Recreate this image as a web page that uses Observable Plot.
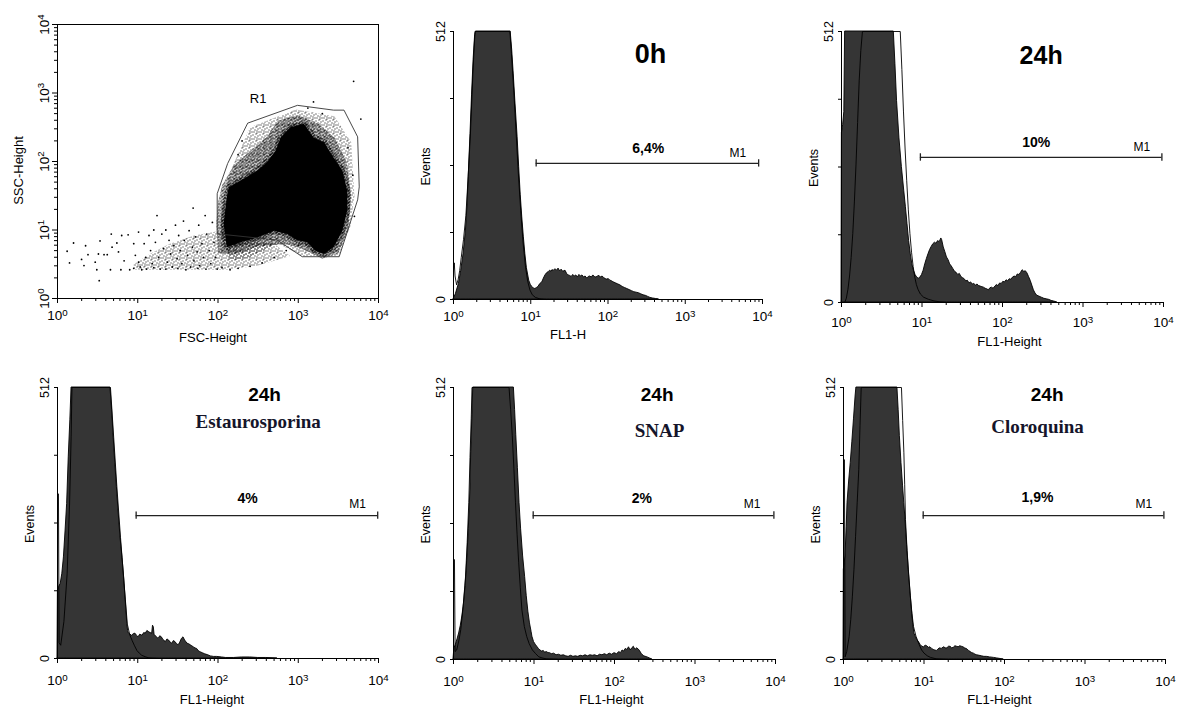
<!DOCTYPE html>
<html><head><meta charset="utf-8">
<script src="https://cdn.jsdelivr.net/npm/d3@7"></script>
<script src="https://cdn.jsdelivr.net/npm/@observablehq/plot@0.6"></script>
<style>
body{margin:0;background:#fff;}
#fig{position:relative;width:1188px;height:708px;overflow:hidden;background:#fff;font-family:"Liberation Sans",Arial,sans-serif;}
#fig > svg{position:absolute;overflow:visible;}
</style></head><body>
<svg width="0" height="0" style="position:absolute;left:0;top:0"><defs>
<pattern id="spkA" width="7" height="7" patternUnits="userSpaceOnUse" shape-rendering="crispEdges">
<rect x="0" y="1" width="1" height="1" fill="#000"/><rect x="3" y="0" width="1" height="1" fill="#000"/>
<rect x="5" y="2" width="1" height="1" fill="#000"/><rect x="2" y="3" width="1" height="1" fill="#000"/>
<rect x="6" y="5" width="1" height="1" fill="#000"/><rect x="1" y="5" width="1" height="1" fill="#000"/>
<rect x="4" y="6" width="1" height="1" fill="#000"/><rect x="4" y="4" width="1" height="1" fill="#000"/>
</pattern>
<pattern id="spkB" width="6" height="6" patternUnits="userSpaceOnUse" shape-rendering="crispEdges">
<rect x="0" y="0" width="2" height="1" fill="#000"/><rect x="3" y="0" width="1" height="1" fill="#000"/>
<rect x="5" y="1" width="1" height="1" fill="#000"/><rect x="1" y="2" width="2" height="1" fill="#000"/>
<rect x="4" y="2" width="1" height="2" fill="#000"/><rect x="0" y="4" width="1" height="1" fill="#000"/>
<rect x="2" y="4" width="1" height="2" fill="#000"/><rect x="5" y="4" width="1" height="1" fill="#000"/>
<rect x="4" y="5" width="1" height="1" fill="#000"/><rect x="0" y="3" width="1" height="1" fill="#000"/>
</pattern>
</defs></svg>
<div id="fig"></div>
<script>
// ---------- axis ticks ----------
const majorTicks = [1, 10, 100, 1000, 10000];
const minorTicks = [2,3,4,5,6,7,8,9,20,30,40,50,60,70,80,90,200,300,400,500,600,700,800,900,2000,3000,4000,5000,6000,7000,8000,9000];
const countTicks = [0, 128, 256, 384, 512];
const countTickLabels = [0, 512];

// ---------- scatter (log10 FSC, log10 SSC) ----------
const scatterCore = [[2.135,1.625],[2.32,1.75],[2.49,1.87],[2.61,1.99],[2.72,2.16],[2.78,2.35],[2.90,2.50],[3.07,2.55],[3.19,2.35],[3.32,2.28],[3.44,2.06],[3.55,1.87],[3.61,1.58],[3.61,1.28],[3.55,0.99],[3.44,0.75],[3.32,0.65],[3.21,0.70],[3.11,0.82],[2.99,0.85],[2.86,0.94],[2.70,0.99],[2.49,0.89],[2.28,0.82],[2.11,0.75],[2.07,1.09],[2.11,1.48]];
const scatterRing = [[2.05,1.65],[2.2,1.95],[2.4,2.15],[2.6,2.35],[2.75,2.6],[3.0,2.68],[3.25,2.55],[3.45,2.35],[3.6,2.0],[3.66,1.5],[3.62,1.0],[3.5,0.66],[3.3,0.58],[3.1,0.7],[2.85,0.8],[2.5,0.76],[2.2,0.64],[2.0,0.66],[1.98,1.1],[2.0,1.4]];
const scatterHalo = [[2.02,1.0],[2.06,1.45],[2.17,1.9],[2.4,2.5],[2.97,2.76],[3.45,2.66],[3.66,2.28],[3.7,1.5],[3.65,1.05],[3.5,0.62],[3.05,0.62],[2.75,0.8],[2.4,0.6],[2.15,0.55]];
const scatterTail = [[0.95,0.42],[1.6,0.42],[2.1,0.42],[2.5,0.48],[2.9,0.62],[2.7,0.8],[2.3,0.88],[2.0,0.98],[1.7,0.92],[1.4,0.8],[1.15,0.65],[0.95,0.5]];
const scatterDots = [[0.12,0.69],[0.20,0.81],[0.15,0.52],[0.30,0.57],[0.35,0.77],[0.33,0.48],[0.38,0.64],[0.47,0.53],[0.49,0.42],[0.52,0.26],[0.53,0.84],[0.51,0.65],[0.58,0.64],[0.62,0.64],[0.66,0.42],[0.67,0.94],[0.68,0.75],[0.74,0.81],[0.76,0.68],[0.79,0.42],[0.80,0.92],[0.83,0.55],[0.88,0.93],[0.90,0.42],[0.95,0.80],[0.97,0.63],[1.01,0.97],[1.01,0.53],[1.03,0.46],[1.08,0.80],[1.10,0.60],[1.11,0.43],[1.14,0.92],[1.16,0.70],[1.18,0.51],[1.20,1.00],[1.22,0.82],[1.24,1.21],[1.26,0.60],[1.28,0.43],[1.30,0.94],[1.32,0.73],[1.35,1.00],[1.37,0.53],[1.39,0.85],[1.41,0.65],[1.43,0.46],[1.45,0.77],[1.47,1.07],[1.49,0.58],[1.51,0.92],[1.53,0.70],[1.55,0.51],[1.57,1.13],[1.58,0.85],[1.62,0.63],[1.64,0.99],[1.66,0.46],[1.68,0.75],[1.69,1.32],[1.70,0.55],[1.72,0.90],[1.74,0.68],[1.76,1.07],[1.77,0.48],[1.80,0.80],[1.82,0.60],[1.84,1.21],[1.86,0.94],[1.89,0.70],[1.91,0.51],[1.93,1.11],[1.95,0.82],[1.97,0.60],[1.99,0.43],[0.95,0.44],[1.05,0.42],[1.2,0.45],[1.35,0.43],[1.5,0.44],[1.6,0.42],[1.75,0.44],[1.85,0.43],[2.05,0.45],[2.15,0.42],[2.25,0.44],[2.4,0.47],[2.55,0.52],[2.7,0.6],[2.85,0.7],[3.0,0.78],[3.69,3.17],[3.78,2.62],[3.19,2.87],[3.12,2.78],[3.3,2.7],[3.62,2.2],[2.3,2.3],[2.25,2.1],[3.68,1.8],[3.7,1.2]];
const gateR1 = [[1.99,0.95],[1.99,1.53],[2.12,1.97],[2.37,2.56],[2.99,2.82],[3.44,2.75],[3.57,2.75],[3.74,2.36],[3.76,1.63],[3.74,1.44],[3.51,0.61],[3.05,0.61],[2.74,0.85]];

// ---------- histograms (log10 FL1, events) ----------
const hist0hSample = [[0,0],[0.03,10],[0.07,30],[0.1,55],[0.13,87],[0.16,130],[0.18,176],[0.2,245],[0.22,316],[0.24,390],[0.26,457],[0.28,505],[0.29,512],[0.74,512],[0.76,476],[0.78,430],[0.8,380],[0.83,310],[0.85,253],[0.87,200],[0.89,157],[0.91,120],[0.93,87],[0.95,60],[0.98,36],[1.0,28],[1.02,24],[1.04,21],[1.06,20],[1.08,22],[1.1,24],[1.12,29],[1.15,33],[1.17,40],[1.19,46],[1.21,50],[1.23,52],[1.25,55],[1.27,53],[1.28,56],[1.3,55],[1.32,58],[1.34,55],[1.36,59],[1.38,54],[1.4,57],[1.42,53],[1.45,55],[1.47,49],[1.49,46],[1.51,45],[1.53,43],[1.55,47],[1.57,44],[1.59,46],[1.61,42],[1.63,47],[1.65,44],[1.67,46],[1.69,42],[1.71,44],[1.73,40],[1.75,43],[1.77,44],[1.79,42],[1.81,46],[1.83,43],[1.85,42],[1.87,44],[1.89,45],[1.91,42],[1.93,44],[1.95,41],[1.97,39],[1.99,38],[2.01,39],[2.03,36],[2.05,35],[2.07,33],[2.1,31],[2.13,29],[2.16,27],[2.19,24],[2.22,22],[2.25,20],[2.28,18],[2.31,16],[2.34,14],[2.37,13],[2.4,12],[2.43,10],[2.46,8],[2.49,7],[2.52,5],[2.55,3],[2.58,2],[2.62,1],[2.66,0]];
const hist0hControl = [[0,55],[0.01,70],[0.02,45],[0.04,28],[0.06,38],[0.08,55],[0.1,80],[0.13,115],[0.16,160],[0.19,235],[0.22,320],[0.25,430],[0.27,490],[0.28,512],[0.73,512],[0.75,470],[0.78,400],[0.81,320],[0.84,240],[0.87,170],[0.9,110],[0.93,65],[0.96,35],[0.99,18],[1.02,9],[1.06,4],[1.12,1],[1.2,0]];

const hist24hSample = [[0,0],[0.005,320],[0.02,335],[0.035,360],[0.045,512],[0.65,512],[0.67,450],[0.69,381],[0.72,310],[0.75,256],[0.78,210],[0.8,180],[0.82,148],[0.84,116],[0.86,92],[0.88,72],[0.9,60],[0.92,52],[0.94,47],[0.96,45],[0.98,47],[1.0,52],[1.02,60],[1.04,72],[1.06,82],[1.08,91],[1.1,99],[1.12,105],[1.14,110],[1.16,113],[1.18,111],[1.2,116],[1.22,114],[1.24,121],[1.25,118],[1.27,104],[1.29,95],[1.31,85],[1.33,80],[1.35,72],[1.37,68],[1.39,63],[1.41,58],[1.43,56],[1.45,52],[1.47,54],[1.49,48],[1.51,46],[1.53,44],[1.55,40],[1.57,41],[1.59,36],[1.61,38],[1.63,34],[1.65,35],[1.67,32],[1.69,34],[1.71,31],[1.73,30],[1.75,29],[1.77,28],[1.79,26],[1.81,25],[1.83,23],[1.85,27],[1.87,28],[1.89,26],[1.91,30],[1.93,33],[1.95,31],[1.97,36],[1.99,35],[2.01,39],[2.03,38],[2.05,42],[2.07,40],[2.09,44],[2.11,43],[2.13,47],[2.15,49],[2.17,48],[2.19,53],[2.21,52],[2.23,56],[2.25,61],[2.27,58],[2.29,59],[2.31,55],[2.33,48],[2.35,41],[2.37,32],[2.39,23],[2.41,17],[2.43,13],[2.46,11],[2.49,9],[2.52,7],[2.55,6],[2.58,5],[2.61,3],[2.64,2],[2.68,0]];
const hist24hControl = [[0.04,0],[0.06,8],[0.08,25],[0.1,50],[0.12,85],[0.14,130],[0.16,190],[0.18,260],[0.2,340],[0.22,420],[0.24,476],[0.26,512],[0.73,512],[0.75,440],[0.77,360],[0.79,290],[0.81,230],[0.83,175],[0.85,130],[0.87,95],[0.89,68],[0.91,48],[0.93,34],[0.95,25],[0.98,16],[1.02,10],[1.08,6],[1.15,3],[1.23,1],[1.3,0]];

const histEstSample = [[0,0],[0.005,128],[0.02,135],[0.04,141],[0.06,160],[0.08,191],[0.1,240],[0.12,292],[0.14,380],[0.16,450],[0.175,512],[0.66,512],[0.68,470],[0.70,418],[0.72,370],[0.74,324],[0.76,280],[0.785,229],[0.81,190],[0.83,154],[0.85,110],[0.87,65],[0.88,52],[0.89,47],[0.91,45],[0.93,43],[0.95,46],[0.97,47],[0.99,43],[1.01,40],[1.03,45],[1.06,43],[1.08,48],[1.10,47],[1.12,52],[1.14,50],[1.16,48],[1.18,47],[1.19,62],[1.20,59],[1.21,44],[1.22,43],[1.24,40],[1.26,37],[1.28,42],[1.30,40],[1.32,35],[1.35,31],[1.37,36],[1.39,34],[1.41,30],[1.43,28],[1.45,33],[1.47,31],[1.49,27],[1.51,25],[1.53,30],[1.55,37],[1.57,40],[1.59,34],[1.62,28],[1.64,27],[1.66,25],[1.68,23],[1.70,21],[1.72,19],[1.74,18],[1.76,14],[1.78,12],[1.81,10],[1.84,8],[1.88,6],[1.91,4],[1.95,3],[1.99,3],[2.05,2],[2.1,1],[2.2,1],[2.3,2],[2.4,2],[2.5,1],[2.6,1],[2.74,0]];
const histEstControl = [[0,0],[0.003,311],[0.012,311],[0.02,30],[0.04,25],[0.08,70],[0.12,160],[0.15,290],[0.17,420],[0.18,512],[0.66,512],[0.70,418],[0.74,324],[0.785,229],[0.83,141],[0.87,65],[0.9,45],[0.93,34],[0.96,24],[0.99,15],[1.02,10],[1.05,6],[1.1,3],[1.14,1],[1.25,0]];

const histSnapSample = [[0,0],[0.01,20],[0.03,28],[0.05,38],[0.07,49],[0.09,63],[0.11,81],[0.13,105],[0.15,138],[0.17,185],[0.19,245],[0.21,320],[0.22,390],[0.235,460],[0.245,512],[0.75,512],[0.765,470],[0.78,422],[0.80,360],[0.82,295],[0.84,245],[0.865,194],[0.89,155],[0.91,119],[0.93,90],[0.95,68],[0.97,52],[0.98,43],[1.0,33],[1.02,28],[1.04,24],[1.06,20],[1.08,17],[1.1,15],[1.12,16],[1.14,13],[1.16,14],[1.18,12],[1.2,12],[1.22,10],[1.25,11],[1.28,8],[1.31,9],[1.34,7],[1.37,8],[1.40,6],[1.43,5],[1.46,7],[1.49,5],[1.52,6],[1.55,5],[1.58,7],[1.61,6],[1.64,8],[1.67,6],[1.70,8],[1.73,7],[1.76,8],[1.79,6],[1.82,9],[1.85,8],[1.88,10],[1.91,8],[1.94,11],[1.97,9],[2.0,12],[2.03,10],[2.06,14],[2.08,12],[2.1,17],[2.12,15],[2.14,20],[2.16,18],[2.18,23],[2.2,17],[2.22,21],[2.24,24],[2.26,18],[2.28,21],[2.3,19],[2.32,15],[2.34,10],[2.37,6],[2.41,4],[2.44,2],[2.47,0]];
const histSnapControl = [[0,0],[0.004,188],[0.012,188],[0.02,15],[0.04,18],[0.07,38],[0.09,56],[0.12,100],[0.15,157],[0.17,220],[0.19,295],[0.205,380],[0.22,453],[0.23,512],[0.69,512],[0.71,470],[0.73,422],[0.75,360],[0.77,295],[0.79,235],[0.81,182],[0.83,135],[0.85,93],[0.88,62],[0.91,43],[0.94,30],[0.98,18],[1.02,11],[1.06,5],[1.1,3],[1.16,1],[1.3,0]];

const histCloSample = [[0,0],[0.004,169],[0.025,194],[0.04,250],[0.05,295],[0.07,335],[0.09,370],[0.11,410],[0.13,452],[0.15,495],[0.16,512],[0.67,512],[0.685,470],[0.70,421],[0.72,370],[0.74,326],[0.755,295],[0.77,263],[0.79,215],[0.81,169],[0.83,130],[0.85,93],[0.865,68],[0.88,49],[0.90,42],[0.915,37],[0.94,32],[0.96,27],[0.98,24],[1.0,23],[1.02,26],[1.04,25],[1.06,22],[1.08,23],[1.10,20],[1.12,18],[1.14,17],[1.16,16],[1.18,19],[1.2,21],[1.22,20],[1.25,23],[1.27,21],[1.29,21],[1.31,24],[1.33,24],[1.35,21],[1.37,22],[1.39,25],[1.41,24],[1.43,23],[1.45,25],[1.47,24],[1.49,23],[1.51,21],[1.54,19],[1.56,16],[1.58,14],[1.6,12],[1.62,11],[1.64,9],[1.66,8],[1.69,7],[1.72,6],[1.75,5],[1.78,5],[1.82,4],[1.87,3],[1.91,2],[1.95,1],[1.99,0]];
const histCloControl = [[0,0],[0.004,376],[0.012,376],[0.02,5],[0.04,15],[0.07,43],[0.09,75],[0.11,118],[0.13,170],[0.15,232],[0.17,295],[0.19,358],[0.205,440],[0.22,512],[0.72,512],[0.735,450],[0.75,389],[0.76,330],[0.77,263],[0.79,205],[0.81,160],[0.83,120],[0.85,87],[0.87,62],[0.9,44],[0.94,28],[0.97,18],[1.0,12],[1.04,7],[1.08,4],[1.16,1],[1.3,0]];

// ---------- panel texts ----------
const panelTitles = ["0h", "24h", "24h", "24h", "24h"];
const panelSubtitles = ["", "", "Estaurosporina", "SNAP", "Cloroquina"];
const markerLabels = ["6,4%", "10%", "4%", "2%", "1,9%"];
const xAxisTitles = ["FSC-Height", "FL1-H", "FL1-Height", "FL1-Height", "FL1-Height", "FL1-Height"];

// ---------- helpers ----------
const SANS = '"Liberation Sans", Arial, sans-serif';
const SERIF = '"Liberation Serif", "Times New Roman", serif';
const NS = "http://www.w3.org/2000/svg";
const fmtPow = d => "10^" + Math.round(Math.log10(d));
const fig = document.getElementById("fig");
const TICK_FS = 13.5;

function superscripts(svg) {
  svg.querySelectorAll("text").forEach(t => {
    const m = /^10\^(\d)$/.exec(t.textContent);
    if (m) {
      t.textContent = "10";
      const ts = document.createElementNS(NS, "tspan");
      ts.setAttribute("dy", "-0.45em");
      ts.setAttribute("font-size", "0.72em");
      ts.textContent = m[1];
      t.appendChild(ts);
    }
  });
}
function place(svg, left, top) {
  svg.style.left = left + "px";
  svg.style.top = top + "px";
  superscripts(svg);
  fig.appendChild(svg);
}
const pt = ([a, b]) => ({x: 10 ** a, y: 10 ** b});
const hrow = ([l, c]) => ({v: 10 ** l, c});

// ---------- scatter panel ----------
{
  const svg = Plot.plot({
    width: 400, height: 360, marginLeft: 57, marginRight: 22, marginTop: 24, marginBottom: 62,
    style: {fontFamily: SANS, fontSize: "12px", background: "transparent", overflow: "visible"},
    x: {type: "log", domain: [1, 10000], label: null},
    y: {type: "log", domain: [1, 10000], label: null},
    marks: [
      Plot.line(scatterHalo.map(pt), {x: "x", y: "y", curve: "linear-closed", fill: "url(#spkA)", stroke: "none"}),
      Plot.line(scatterTail.map(pt), {x: "x", y: "y", curve: "linear-closed", fill: "url(#spkA)", stroke: "none"}),
      Plot.line(scatterRing.map(pt), {x: "x", y: "y", curve: "linear-closed", fill: "url(#spkB)", stroke: "none"}),
      Plot.line(scatterCore.map(pt), {x: "x", y: "y", curve: "linear-closed", fill: "#000", stroke: "url(#spkB)", strokeWidth: 6}),
      Plot.dot(scatterDots.map(pt), {x: "x", y: "y", r: 0.9, fill: "#000", stroke: "none"}),
      Plot.line(gateR1.map(pt), {x: "x", y: "y", curve: "linear-closed", stroke: "#333", strokeWidth: 0.9, fill: "none"}),
      Plot.text(["R1"], {x: () => 10 ** 2.5, y: () => 10 ** 2.85, textAnchor: "middle", lineAnchor: "bottom", fontSize: 13}),
      Plot.frame({stroke: "#000", strokeWidth: 1}),
      Plot.axisX({ticks: majorTicks, tickSize: 5, tickPadding: 7, tickFormat: fmtPow, fontSize: TICK_FS, label: null}),
      Plot.axisX({ticks: minorTicks, tickSize: 3, tickFormat: () => "", label: null}),
      Plot.axisY({ticks: majorTicks, tickSize: 5, tickFormat: () => "", label: null}),
      Plot.axisY({ticks: minorTicks, tickSize: 3, tickFormat: () => "", label: null}),
      Plot.text(majorTicks, {y: d => d, frameAnchor: "left", dx: -9, rotate: -90, textAnchor: "middle", lineAnchor: "bottom", text: fmtPow, fontSize: TICK_FS}),
      Plot.text([xAxisTitles[0]], {frameAnchor: "bottom", dx: -5, dy: 43, textAnchor: "middle", lineAnchor: "bottom", fontSize: 13}),
      Plot.text(["SSC-Height"], {frameAnchor: "left", dx: -39, dy: 9, rotate: -90, textAnchor: "middle", lineAnchor: "middle", fontSize: 13})
    ]
  });
  place(svg, 0, 0);
}

// ---------- histogram panels ----------
const panels = [
  {sample: hist0hSample, control: hist0hControl, left: 400, top: 0, w: 390, h: 360, ml: 53, mr: 28, mt: 31, mb: 61, xpad: 7,
   xTitle: xAxisTitles[1], xTitleDx: -40, xTitleDy: 39,
   title: panelTitles[0], titleAt: [2.55, 451], titleSize: 27, sub: "", subAt: null,
   m1: {from: 1.07, to: 3.95, y: 260}, pct: markerLabels[0], pctAt: [2.52, 279], m1At: [3.68, 273]},
  {sample: hist24hSample, control: hist24hControl, left: 790, top: 0, w: 398, h: 360, ml: 51, mr: 25, mt: 31, mb: 58, xpad: 10,
   xTitle: xAxisTitles[2], xTitleDx: 7, xTitleDy: 43,
   title: panelTitles[1], titleAt: [2.48, 451], titleSize: 25, sub: "", subAt: null,
   m1: {from: 0.98, to: 3.98, y: 274}, pct: markerLabels[1], pctAt: [2.42, 293], m1At: [3.73, 287]},
  {sample: histEstSample, control: histEstControl, left: 0, top: 360, w: 400, h: 348, ml: 57, mr: 22, mt: 27, mb: 50, xpad: 12,
   xTitle: xAxisTitles[3], xTitleDx: -6, xTitleDy: 45,
   title: panelTitles[2], titleAt: [2.58, 487], titleSize: 19, sub: panelSubtitles[2], subAt: [2.50, 435],
   m1: {from: 0.98, to: 3.99, y: 270}, pct: markerLabels[2], pctAt: [2.37, 293], m1At: [3.74, 285]},
  {sample: histSnapSample, control: histSnapControl, left: 400, top: 360, w: 390, h: 348, ml: 53, mr: 15, mt: 27, mb: 49, xpad: 12,
   xTitle: xAxisTitles[4], xTitleDx: -3, xTitleDy: 44,
   title: panelTitles[3], titleAt: [2.53, 486], titleSize: 19, sub: panelSubtitles[3], subAt: [2.56, 418],
   m1: {from: 0.99, to: 3.98, y: 271}, pct: markerLabels[3], pctAt: [2.34, 294], m1At: [3.71, 286]},
  {sample: histCloSample, control: histCloControl, left: 790, top: 360, w: 398, h: 348, ml: 53, mr: 23, mt: 27, mb: 49, xpad: 12,
   xTitle: xAxisTitles[5], xTitleDx: -5, xTitleDy: 44,
   title: panelTitles[4], titleAt: [2.53, 486], titleSize: 19, sub: panelSubtitles[4], subAt: [2.41, 427],
   m1: {from: 0.99, to: 3.98, y: 271}, pct: markerLabels[4], pctAt: [2.41, 297], m1At: [3.73, 286]}
];

for (const p of panels) {
  const m1 = [{x1: 10 ** p.m1.from, x2: 10 ** p.m1.to, y: p.m1.y}];
  const caps = [10 ** p.m1.from, 10 ** p.m1.to];
  const marks = [
    Plot.areaY(p.sample.map(hrow), {x: "v", y: "c", fill: "#353535", stroke: "#000", strokeWidth: 0.9}),
    Plot.lineY(p.control.map(hrow), {x: "v", y: "c", stroke: "#000", strokeWidth: 0.9}),
    Plot.ruleX([1], {stroke: "#000", strokeWidth: 1}),
    Plot.ruleY([0], {stroke: "#000", strokeWidth: 1}),
    Plot.axisX({ticks: majorTicks, tickSize: 5, tickPadding: p.xpad, tickFormat: fmtPow, fontSize: TICK_FS, label: null}),
    Plot.axisX({ticks: minorTicks, tickSize: 3, tickFormat: () => "", label: null}),
    Plot.axisY({ticks: countTicks, tickSize: 3, tickFormat: () => "", label: null}),
    Plot.text(countTickLabels, {y: d => d, frameAnchor: "left", dx: -9, rotate: -90, textAnchor: "middle", lineAnchor: "bottom", text: d => String(d), fontSize: 12.5}),
    Plot.text([p.xTitle], {frameAnchor: "bottom", dx: p.xTitleDx, dy: p.xTitleDy, textAnchor: "middle", lineAnchor: "bottom", fontSize: 13}),
    Plot.text(["Events"], {frameAnchor: "left", dx: -28, dy: 1, rotate: -90, textAnchor: "middle", lineAnchor: "middle", fontSize: 12.5}),
    Plot.ruleY(m1, {x1: "x1", x2: "x2", y: "y", stroke: "#222", strokeWidth: 1.3}),
    Plot.ruleX(caps, {x: d => d, y1: p.m1.y - 7, y2: p.m1.y + 7, stroke: "#222", strokeWidth: 1.3}),
    Plot.text([p.pct], {x: () => 10 ** p.pctAt[0], y: () => p.pctAt[1], textAnchor: "middle", lineAnchor: "bottom", fontSize: 14, fontWeight: "bold"}),
    Plot.text(["M1"], {x: () => 10 ** p.m1At[0], y: () => p.m1At[1], textAnchor: "middle", lineAnchor: "bottom", fontSize: 12}),
    Plot.text([p.title], {x: () => 10 ** p.titleAt[0], y: () => p.titleAt[1], textAnchor: "middle", lineAnchor: "bottom", fontSize: p.titleSize, fontWeight: "bold"})
  ];
  if (p.sub) marks.push(Plot.text([p.sub], {x: () => 10 ** p.subAt[0], y: () => p.subAt[1], textAnchor: "middle", lineAnchor: "bottom", fontSize: 19, fontWeight: "bold", fontFamily: SERIF, fill: "#15152a"}));
  const svg = Plot.plot({
    width: p.w, height: p.h, marginLeft: p.ml, marginRight: p.mr, marginTop: p.mt, marginBottom: p.mb,
    style: {fontFamily: SANS, fontSize: "12px", background: "transparent", overflow: "visible"},
    x: {type: "log", domain: [1, 10000], label: null},
    y: {domain: [0, 512], label: null},
    marks
  });
  place(svg, p.left, p.top);
}
</script>
</body></html>
